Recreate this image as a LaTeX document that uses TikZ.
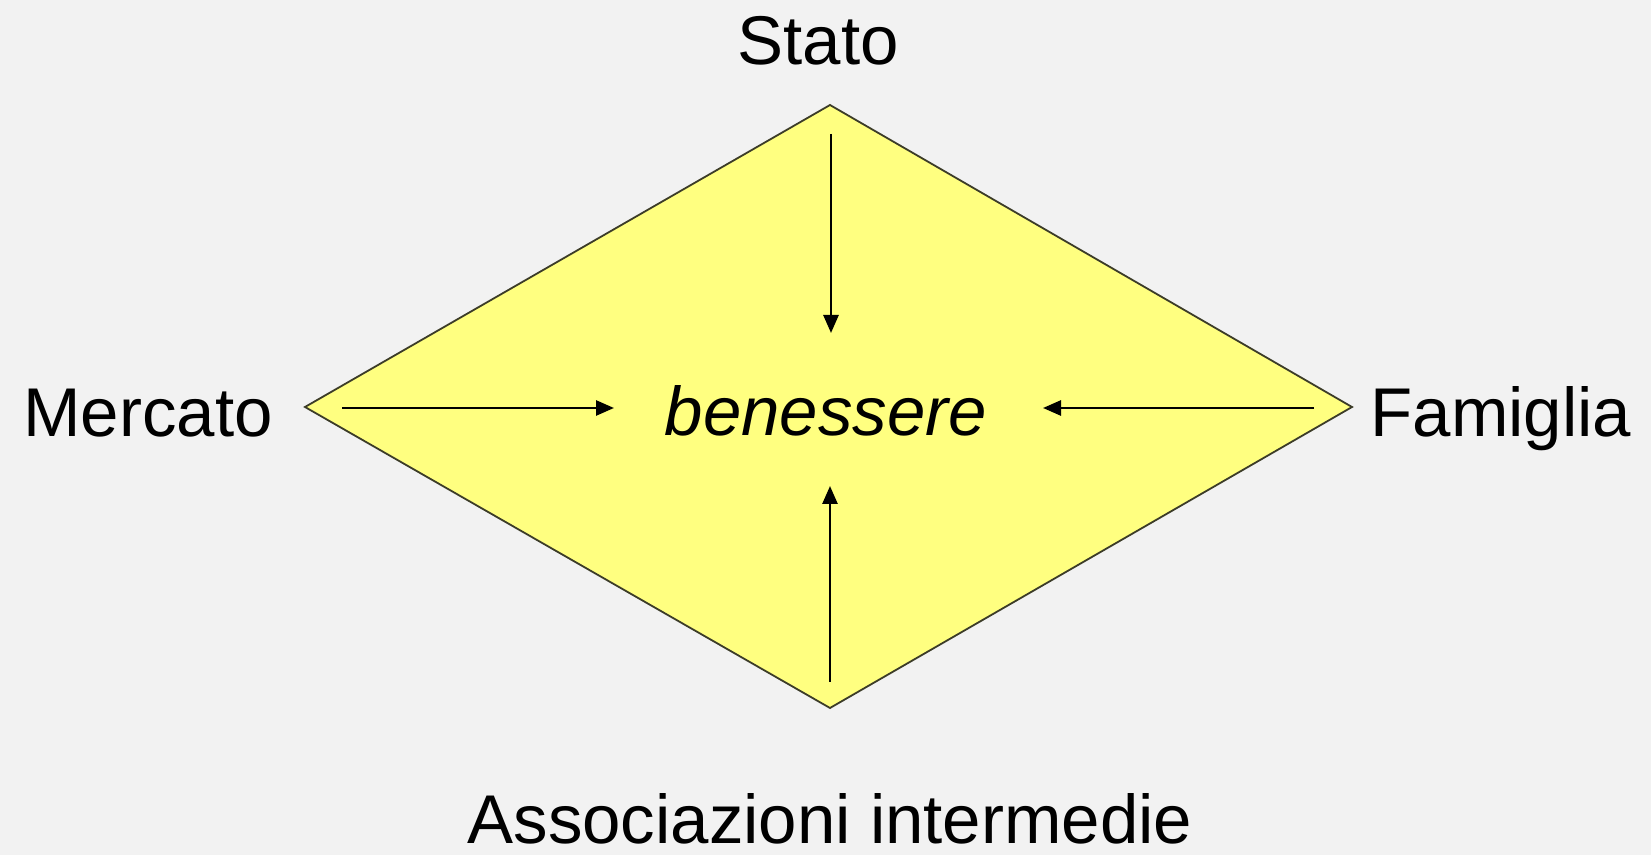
\documentclass[tikz,border=0pt]{standalone}
\usepackage{fontspec}
\setmainfont{Liberation Sans}
\usetikzlibrary{arrows.meta}
\definecolor{bg}{RGB}{242,242,242}
\definecolor{fillyellow}{RGB}{255,255,128}
\definecolor{edge}{RGB}{60,60,40}
\tikzset{
  lbl/.style={anchor=base, inner sep=0pt, font=\fontsize{34.5}{40}\selectfont},
  conn/.style={line width=1.3pt, -{Triangle[length=9pt,width=7.5pt]}},
}
\begin{document}
\begin{tikzpicture}[x=0.5pt,y=-0.5pt]
\fill[bg] (0,0) rectangle (1651,855);
\useasboundingbox (0,0) rectangle (1651,855);
% diamond corners
\coordinate (T) at (830,105);
\coordinate (R) at (1352,407);
\coordinate (B) at (830,708);
\coordinate (L) at (305,407);
\fill[fillyellow] (T) -- (R) -- (B) -- (L) -- cycle;
\draw[edge, line width=0.9pt, line join=miter] (T) -- (R) -- (B) -- (L) -- cycle;
% labels
\node[lbl] (stato) at (818,65) {Stato};
\node[lbl] (mercato) at (148,437) {Mercato};
\node[lbl] (famiglia) at (1501,437) {Famiglia};
\node[lbl] (ben) at (826,436) {\itshape benessere};
\node[lbl] (assoc) at (830,843) {Associazioni intermedie};
% arrow end points
\coordinate (s1) at (831,134);
\coordinate (s2) at (831,333);
\coordinate (m1) at (342,408);
\coordinate (m2) at (614,408);
\coordinate (f1) at (1314,408);
\coordinate (f2) at (1043,408);
\coordinate (a1) at (830,682);
\coordinate (a2) at (830,486);
\draw[conn] (s1) -- (s2);
\draw[conn] (m1) -- (m2);
\draw[conn] (f1) -- (f2);
\draw[conn] (a1) -- (a2);
\end{tikzpicture}
\end{document}
